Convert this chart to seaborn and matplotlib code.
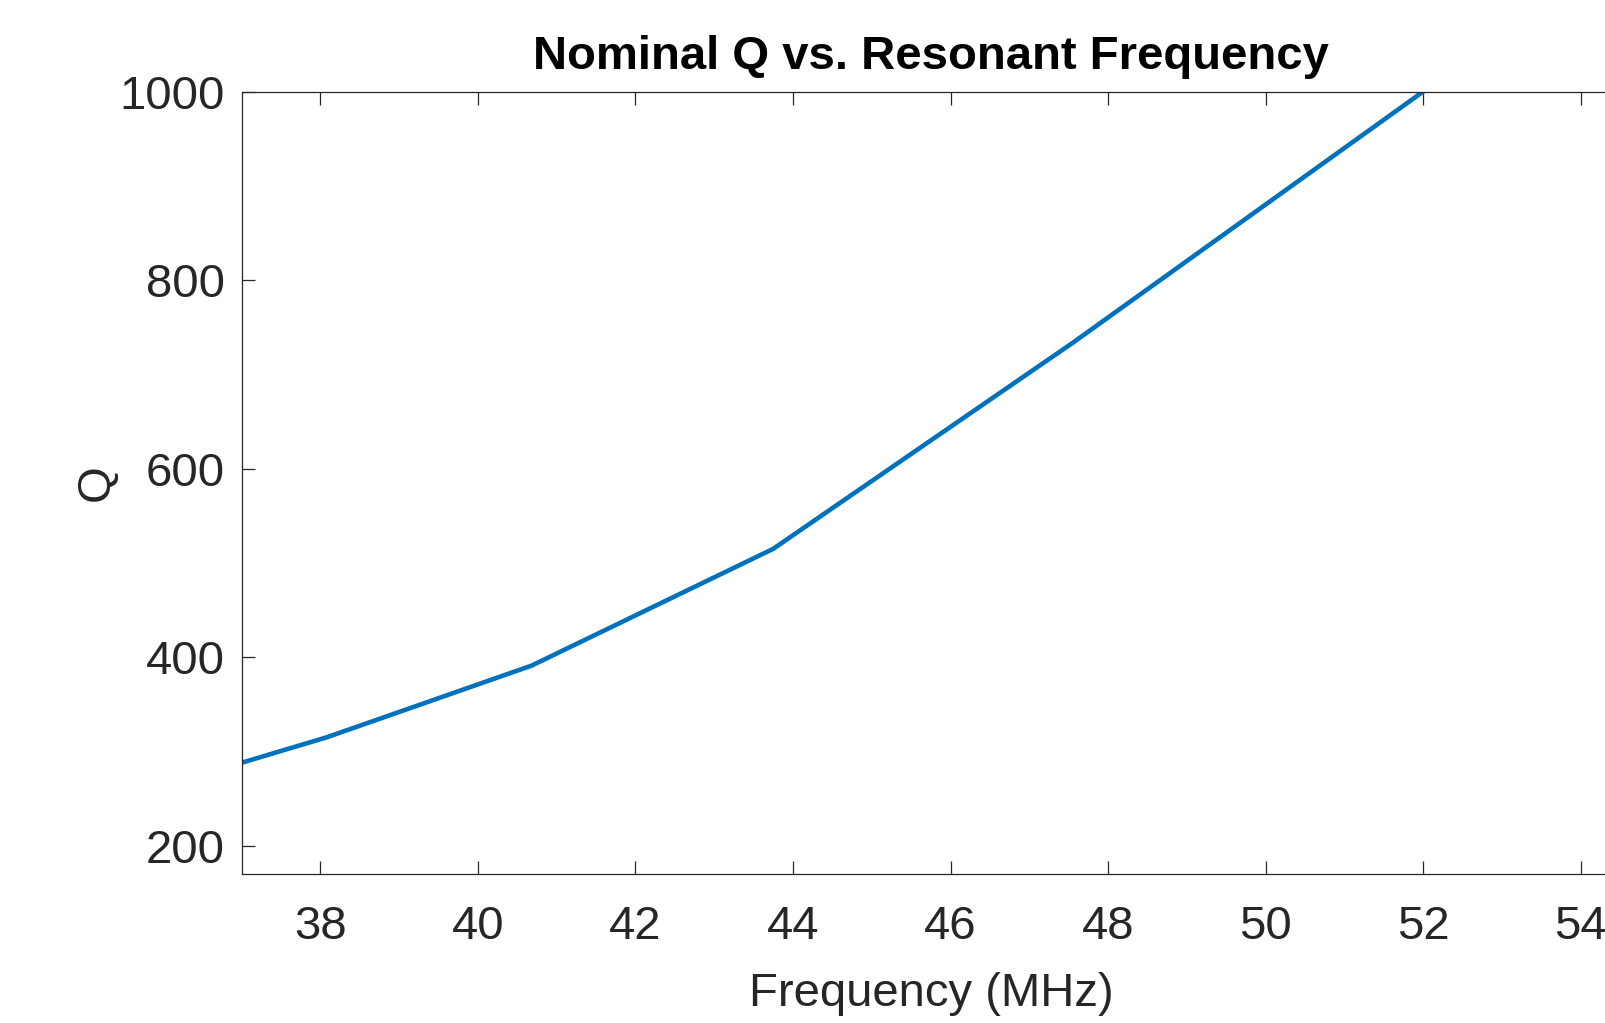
import matplotlib
matplotlib.use("Agg")
import matplotlib.pyplot as plt
import seaborn as sns
import pandas as pd

freq_mhz = [37.0, 38.08, 40.68, 43.75, 47.56, 52.0]
q_values = [288, 315, 391, 515, 734, 1000]
x_ticks = [38, 40, 42, 44, 46, 48, 50, 52, 54]
y_ticks = [200, 400, 600, 800, 1000]

sns.set_theme(style="ticks")
fam = ["Liberation Sans Narrow", "Liberation Sans", "DejaVu Sans"]
plt.rcParams["font.family"] = fam

df = pd.DataFrame({"Frequency (MHz)": freq_mhz, "Q": q_values})

fig = plt.figure(figsize=(16.05, 10.23), dpi=100)
ax = fig.add_axes([0.1506, 0.1457, 0.8587, 0.7647])
sns.lineplot(data=df, x="Frequency (MHz)", y="Q", ax=ax, color="#0072BD", linewidth=3.3)

ax.set_xlim(37, 54.5)
ax.set_ylim(170, 1000)
ax.set_xticks(x_ticks)
ax.set_yticks(y_ticks)
ax.tick_params(direction="in", length=9.5, width=0.9, colors="#262626",
               labelsize=34, top=True, right=True)
ax.tick_params(axis="x", pad=22)
ax.tick_params(axis="y", pad=12)
for s in ax.spines.values():
    s.set_visible(True)
    s.set_color("#262626")
    s.set_linewidth(0.9)
ax.set_xlabel("Frequency (MHz)", fontsize=34, color="#262626", labelpad=17)
ax.set_ylabel("Q", fontsize=34, color="#262626", labelpad=1)
ax.set_title("Nominal Q vs. Resonant Frequency", fontsize=34, fontweight="bold",
             color="black", pad=16)

fig.savefig("out.png", dpi=100)
